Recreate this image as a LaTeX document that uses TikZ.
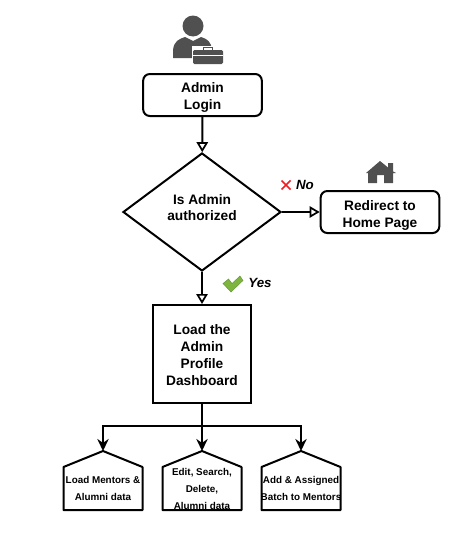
\documentclass[tikz,border=0pt]{standalone}
\usepackage{fontspec}
\setmainfont{Liberation Sans}
\usepackage{xcolor}
\definecolor{iconGray}{HTML}{505050}
\definecolor{crossRed}{HTML}{EE1C25}
\definecolor{checkGreen}{HTML}{7DB53F}
\definecolor{checkDark}{HTML}{5F9030}
\usetikzlibrary{positioning,arrows.meta,shapes.geometric,calc}

\begin{document}
\begin{tikzpicture}[
  x=0.75pt, y=-0.75pt,
  font=\bfseries\fontsize{10.3}{12.75}\selectfont,
  line width=1.5pt,
  rbox/.style={draw, rounded corners=5pt, align=center, minimum width=89pt, minimum height=31.5pt, inner sep=0pt},
  decide/.style={draw, diamond, align=center, minimum width=118.5pt, minimum height=88.5pt, inner sep=0pt},
  panel/.style={draw, align=center, minimum width=73.5pt, minimum height=73.5pt, inner sep=0pt},
  house/.style={align=center, inner sep=0pt, font=\bfseries\fontsize{7.4}{12.75}\selectfont},
  arr/.style={-{Triangle[open, length=7.5pt, width=8.5pt, line width=1.3pt]}},
  fork/.style={-{Stealth[length=9pt, width=8.5pt]}},
  tag/.style={font=\bfseries\itshape\fontsize{10}{12}\selectfont, inner sep=0pt},
]
  \useasboundingbox (0,0) rectangle (452,539);

  \node[rbox]   (login)  at (202.5,95)  {\rule{0pt}{11pt}Admin\\Login};
  \node[decide] (auth)   at (202,212)   {Is Admin\\[-0.5pt]authorized\rule[-7pt]{0pt}{7pt}};
  \node[rbox]   (home)   at (380,212)   {\rule{0pt}{13pt}Redirect to\\Home Page};
  \node[panel]  (dash)   at (202,354)   {\rule{0pt}{9.5pt}Load the\\Admin\\Profile\\Dashboard};
  \node[house]  (mentors) at (103,488.5) {Load Mentors \&\\Alumni data};
  \node[house]  (edit)   at (202,488.5) {Edit, Search,\\Delete,\\Alumni data};
  \node[house]  (batch)  at (301,488.5) {Add \& Assigned\\Batch to Mentors};
  \coordinate (split) at (202,426);

  % pentagon outlines
  \foreach \n in {mentors,edit,batch}
    \draw[line join=round] ($(\n)+(-39.5,21.5)$) -- ($(\n)+(-39.5,-21.5)$) -- ($(\n)+(0,-37.5)$) coordinate (top\n)
      -- ($(\n)+(39.5,-21.5)$) -- ($(\n)+(39.5,21.5)$) -- cycle;

  \draw[arr] (login) -- (auth);
  \draw[arr] (auth) -- (home);
  \draw[arr] (auth) -- (dash);
  \draw (dash) -- (split);
  \draw[fork] (split) -- (topedit);
  \draw[fork] (split) -| (topmentors);
  \draw[fork] (split) -| (topbatch);

  \node[tag] (no)  at (305,185) {No};
  \node[tag] (yes) at (260,283) {Yes};

  % admin icon
  \fill[iconGray] (193,26) circle (10.5);
  \fill[iconGray] (173,58) -- (173,50) .. controls (174,41) and (179,39) .. (185,37)
    -- (193,41) -- (201,37) .. controls (207,39) and (211,41) .. (212,50) -- (212,58) -- cycle;
  \fill[white] (191.5,45.5) rectangle (225,66);
  \fill[iconGray, rounded corners=1pt] (193,50) rectangle (223,64);
  \draw[iconGray, line width=1.2pt] (203.5,50) -- (203.5,47.5) -- (212.5,47.5) -- (212.5,50);
  \draw[white, line width=0.6pt] (193,55.5) -- (223,55.5);

  % home icon
  \fill[iconGray] (366,173) -- (380,161) -- (388,167.5) -- (388,163) -- (393,163) -- (393,171.5)
    -- (396,173) -- (393,173) -- (393,183) -- (384,183) -- (384,175) -- (377,175) -- (377,183)
    -- (368,183) -- (368,173) -- cycle;

  % cross and check
  \draw[crossRed, line width=1.3pt] (281.5,180.5) -- (290.5,189.5) (281.5,189.5) -- (290.5,180.5);
  \fill[checkGreen, draw=checkDark, line width=0.3pt] (223,283.5) -- (228.5,279) -- (232,283.5) -- (240,276)
    -- (243,280.5) -- (231,292) -- cycle;
\end{tikzpicture}
\end{document}
